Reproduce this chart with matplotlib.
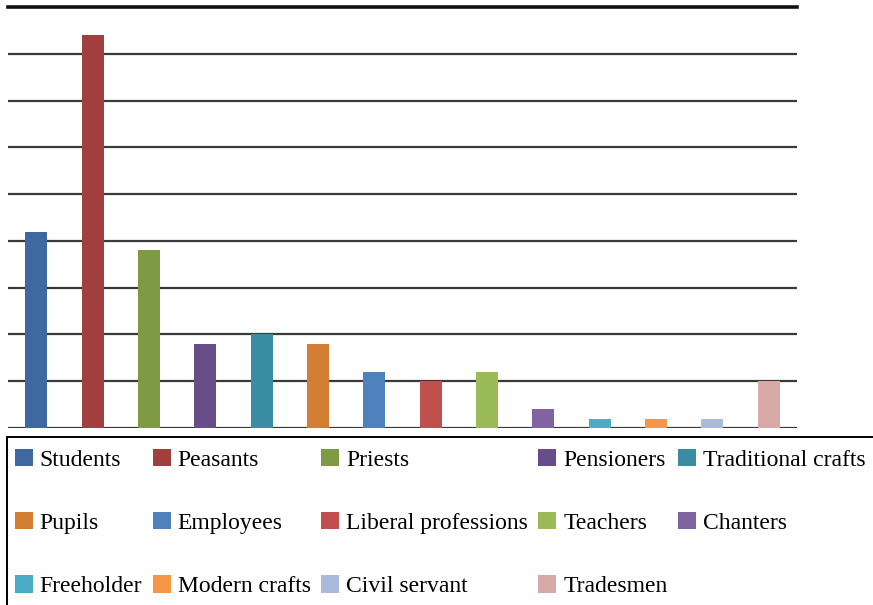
import matplotlib.pyplot as plt
from matplotlib.patches import Rectangle

# ==========================================================
# DATA
# ==========================================================

categories = [
    "Students", "Peasants", "Priests", "Pensioners", "Traditional crafts",
    "Pupils", "Employees", "Liberal professions", "Teachers", "Chanters",
    "Freeholder", "Modern crafts", "Civil servant", "Tradesmen",
]

values = [21, 42, 19, 9, 10, 9, 6, 5, 6, 2, 1, 1, 1, 5]

colors = [
    "#3E68A0", "#A13F3E", "#7E9A42", "#674E89", "#3A8CA2",
    "#D27F34", "#4F81BD", "#C0504D", "#9BBB59", "#8064A2",
    "#4BACC6", "#F79646", "#A9BADB", "#D9A9A8",
]

Y_MAX = 45
Y_STEP = 5

# ==========================================================
# FIGURE
# ==========================================================

W, H = 873, 605
fig = plt.figure(figsize=(W / 100, H / 100), dpi=100)

ax = fig.add_axes([8 / W, (H - 428) / H, 789 / W, 421 / H])

x = range(len(categories))
bars = ax.bar(x, values, width=0.39, color=colors, zorder=3)

ax.set_xlim(-0.5, len(categories) - 0.5)
ax.set_ylim(0, Y_MAX)

for y in range(0, Y_MAX, Y_STEP):
    ax.axhline(y, color="#3a3a3a", linewidth=1.6, zorder=1)
ax.axhline(Y_MAX, color="#111111", linewidth=2.6, zorder=1, clip_on=False)

ax.set_xticks([])
ax.set_yticks([])
for side in ax.spines.values():
    side.set_visible(False)

# ==========================================================
# LEGEND (box runs off the page edge)
# ==========================================================

fig.patches.append(
    Rectangle(
        (7 / W, -0.05), 1.1, (H - 437) / H + 0.05,
        transform=fig.transFigure, fill=False,
        edgecolor="black", linewidth=1.4,
    )
)

# legend fills column by column, so order handles into rows of five
ncol = 5
nrow = 3
order = []
for c in range(ncol):
    for r in range(nrow):
        i = r * ncol + c
        if i < len(categories):
            order.append(i)

handles = [bars[i] for i in order]
labels = [categories[i] for i in order]

fig.legend(
    handles, labels,
    ncol=ncol,
    loc="upper left",
    bbox_to_anchor=(10 / W, (H - 444) / H),
    frameon=False,
    prop={"family": "Liberation Serif", "size": 17},
    handlelength=0.76,
    handleheight=0.76,
    handletextpad=0.3,
    columnspacing=0.44,
    labelspacing=1.75,
    borderpad=0.2,
    borderaxespad=0,
)

plt.savefig("out.png", dpi=100)
